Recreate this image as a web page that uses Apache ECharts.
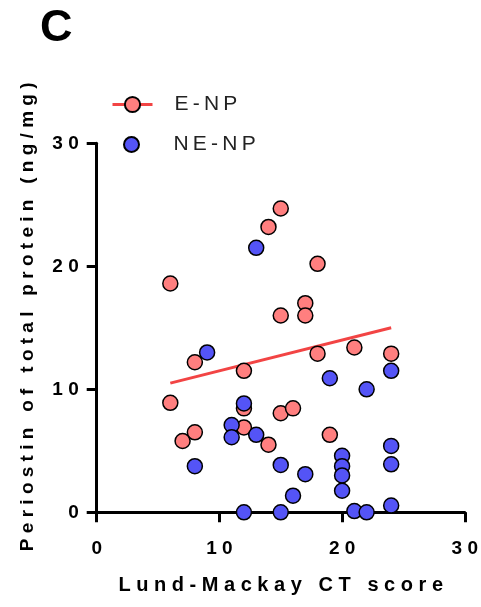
<!DOCTYPE html>
<html lang="en">
<head>
    <meta charset="UTF-8">
    <title>Periostin vs Lund-Mackay</title>
    <script type="text/javascript" src="https://cdn.jsdelivr.net/npm/echarts@6/dist/echarts.min.js"></script>
    <style>
        html, body { margin: 0; padding: 0; background: #fff; }
        #chart { width: 481px; height: 607px; }
    </style>
</head>
<body>
<div id="chart"></div>
<script>
    // E-NP points [Lund-Mackay score, periostin]
    var enpData = [
        [6, 18.6], [6, 8.9], [7, 5.8], [8, 12.2], [8, 6.5],
        [12, 11.5], [12, 8.45], [12, 6.9], [14, 23.2], [14, 5.5],
        [15, 24.7], [15, 16.0], [15, 8.05], [16, 8.45], [17, 17.0],
        [17, 16.0], [18, 20.2], [18, 12.9], [19, 6.3], [21, 13.4],
        [24, 12.9]
    ];
    // NE-NP points
    var nenpData = [
        [8, 3.75], [9, 13.0], [11, 7.1], [11, 6.1], [12, 8.85],
        [12, 0], [13, 21.5], [13, 6.3], [15, 3.85], [15, 0],
        [16, 1.35], [17, 3.1], [19, 10.9], [20, 4.6], [20, 3.75],
        [20, 3.0], [20, 1.75], [21, 0.1], [22, 10.0], [22, 0],
        [24, 11.5], [24, 5.4], [24, 3.9], [24, 0.55]
    ];
    // fitted line for E-NP (end points)
    var enpFit = [[6, 10.5], [24, 15.0]];
    var axisTicks = [0, 10, 20, 30];

    // spread letters out, the figure uses wide tracking
    function spaced(s, gap) {
        return s.split(' ').map(function (w) { return w.split('').join(gap); }).join(gap + gap + gap);
    }

    var font = "'Liberation Sans', Arial, sans-serif";
    var mychart = echarts.init(document.getElementById('chart'));
    var option = {
        animation: false,
        title: {
            text: 'C',
            left: 35,
            top: 1,
            textStyle: { fontFamily: font, fontSize: 45, fontWeight: 'bold', color: '#000' }
        },
        // two legends so the line icon can get a bigger circle
        legend: [{
            data: ['E-NP'],
            orient: 'vertical',
            left: 106,
            top: 89,
            itemWidth: 40,
            itemHeight: 19,
            lineStyle: { width: 3 },
            formatter: function (name) { return spaced(name, '\u2009'); },
            textStyle: { fontFamily: font, fontSize: 21, color: '#222', padding: [0, 0, 0, 17] }
        }, {
            data: ['NE-NP'],
            orient: 'vertical',
            left: 118,
            top: 129,
            itemWidth: 40,
            itemHeight: 15,
            formatter: function (name) { return spaced(name, '\u2009'); },
            textStyle: { fontFamily: font, fontSize: 21, color: '#222', padding: [0, 0, 0, 17] }
        }],
        grid: { left: 96.7, right: 15.7, top: 143.3, bottom: 94.7, containLabel: false },
        xAxis: {
            type: 'value',
            min: axisTicks[0],
            max: axisTicks[axisTicks.length - 1],
            interval: 10,
            name: spaced('Lund-Mackay CT score', ' '),
            nameLocation: 'middle',
            nameGap: 63,
            nameTextStyle: { fontFamily: font, fontSize: 20, fontWeight: 'bold', color: '#000' },
            axisLine: { lineStyle: { color: '#000', width: 3 } },
            axisTick: { show: true, length: 10, lineStyle: { color: '#000', width: 3 } },
            axisLabel: {
                margin: 27,
                fontFamily: font, fontSize: 19, fontWeight: 'bold', color: '#000',
                formatter: function (v) { return spaced(String(v), ' '); }
            },
            splitLine: { show: false }
        },
        yAxis: {
            type: 'value',
            min: axisTicks[0],
            max: axisTicks[axisTicks.length - 1],
            interval: 10,
            name: spaced('Periostin of total protein (ng/mg)', ' '),
            nameLocation: 'middle',
            nameGap: 59,
            nameTextStyle: { fontFamily: font, fontSize: 19, fontWeight: 'bold', color: '#000', padding: [0, 0, 0, 22] },
            axisLine: { lineStyle: { color: '#000', width: 3 } },
            axisTick: { show: true, length: 10, lineStyle: { color: '#000', width: 3 } },
            axisLabel: {
                margin: 18,
                fontFamily: font, fontSize: 19, fontWeight: 'bold', color: '#000',
                formatter: function (v) { return spaced(String(v), ' '); }
            },
            splitLine: { show: false }
        },
        series: [
            {
                name: 'E-NP',
                type: 'line',
                data: enpFit,
                showSymbol: false,
                symbol: 'circle',
                symbolSize: 15,
                itemStyle: { color: '#FF7F7F', borderColor: '#000', borderWidth: 1.5 },
                lineStyle: { color: '#F24444', width: 3 },
                z: 1
            },
            {
                name: 'E-NP',
                type: 'scatter',
                data: enpData,
                symbol: 'circle',
                symbolSize: 15,
                itemStyle: { color: '#FF7F7F', borderColor: '#000', borderWidth: 1.5, opacity: 1 },
                z: 2
            },
            {
                name: 'NE-NP',
                type: 'scatter',
                data: nenpData,
                symbol: 'circle',
                symbolSize: 15,
                itemStyle: { color: '#5454F6', borderColor: '#000', borderWidth: 1.5, opacity: 1 },
                z: 3
            }
        ]
    };
    mychart.setOption(option);
</script>
</body>
</html>
